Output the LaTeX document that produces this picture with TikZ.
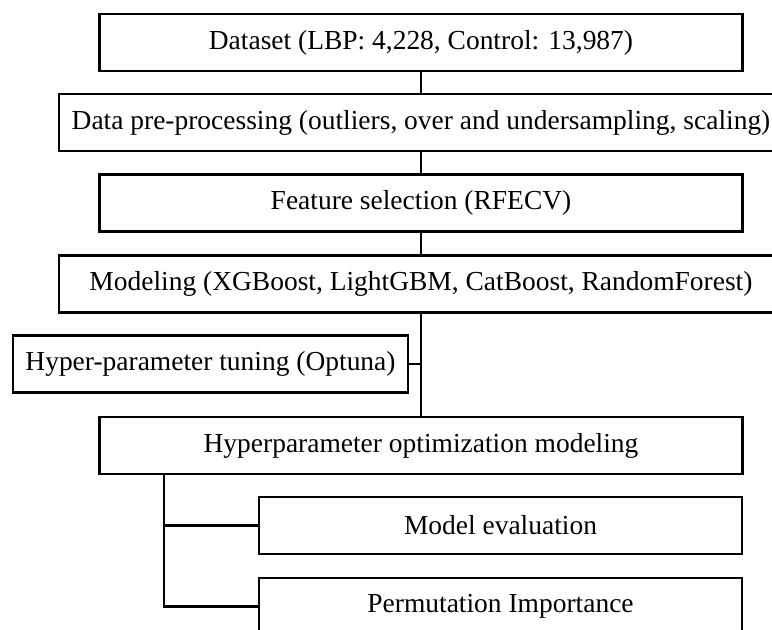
\documentclass[tikz,border=0pt]{standalone}
\usepackage{fontspec}
\setmainfont{Liberation Serif}
\tikzset{
	stage/.style={draw, line width=2pt, inner sep=0pt, minimum height=42.75pt,
		font=\fontsize{20.6}{24}\selectfont},
	link/.style={line width=2pt}
}
\begin{document}
\begin{tikzpicture}[x=0.75pt, y=-0.75pt]
		\useasboundingbox (0,0) rectangle (772,630);
		\clip (0,0) rectangle (772,630);

		% Основная колонка
		\node[stage, minimum width=482.25pt] (ds) at (421,42.5) {Dataset (LBP: 4,228, Control: 13,987)};
		\node[stage, minimum width=543pt] (prep) at (421,122.5) {Data pre-processing (outliers, over and undersampling, scaling)};
		\node[stage, minimum width=482.25pt] (feat) at (421,203) {Feature selection (RFECV)};
		\node[stage, minimum width=543pt] (model) at (421,284) {Modeling (XGBoost, LightGBM, CatBoost, RandomForest)};
		\node[stage, minimum width=296.25pt] (tune) at (210.5,364) {Hyper-parameter tuning (Optuna)};
		\node[stage, minimum width=482.25pt] (hpo) at (421,445.5) {Hyperparameter optimization modeling};

		% Нижние блоки
		\node[stage, minimum width=362.25pt] (eval) at (500.5,525.5) {Model evaluation};
		\node[stage, minimum width=362.25pt] (perm) at (500.5,606.5) {Permutation Importance};

		% Вертикальные линии
		\draw[link] (ds) -- (prep);
		\draw[link] (prep) -- (feat);
		\draw[link] (feat) -- (model);
		\draw[link] (model) -- (hpo);
		\draw[link] (tune.east) -- (tune.east -| hpo.north);

		% Ветка слева
		\coordinate (fork) at (164,474);
		\draw[link] (fork) |- (eval.west);
		\draw[link] (fork) |- (perm.west);
	\end{tikzpicture}
\end{document}
